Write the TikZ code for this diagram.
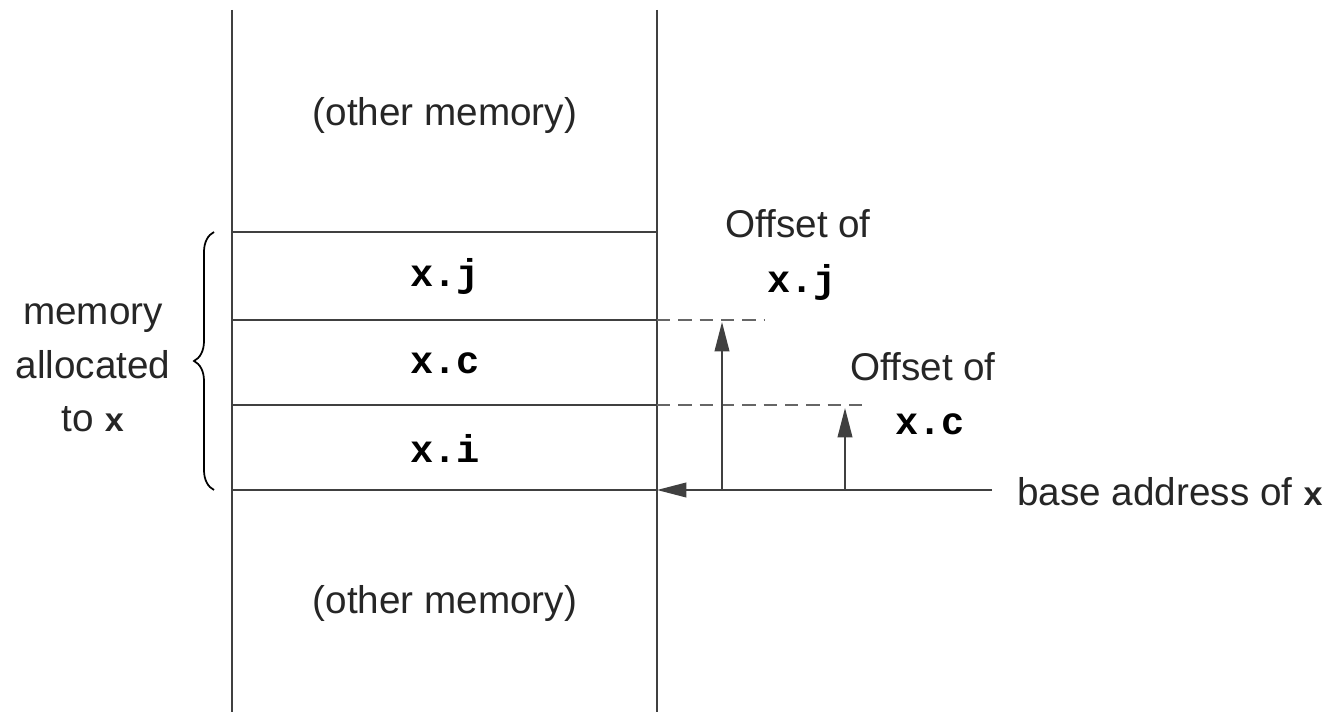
\documentclass[tikz,border=0pt]{standalone}
\usepackage{fontspec}
\setmainfont{Liberation Sans}
\newfontfamily\monofont{Liberation Mono}
\usetikzlibrary{decorations.pathreplacing,arrows.meta}
\newcommand{\smallx}{{\fontsize{25}{30}\selectfont\monofont\bfseries x}}
\begin{document}
\begin{tikzpicture}[x=0.75pt,y=-0.75pt,
  line/.style={draw=black!75,line width=1.3pt},
  dash line/.style={draw=black!60,line width=1.3pt,dash pattern=on 10pt off 6pt},
  arr/.style={line,-{Triangle[length=22pt,width=11pt]}},
  lbl/.style={font=\fontsize{29}{34}\selectfont,text=black!85,inner sep=0pt},
  fld/.style={font=\fontsize{29}{32}\selectfont\monofont\bfseries,inner sep=0pt}]
\useasboundingbox (0,0) rectangle (1340,712);
% column
\coordinate (lt) at (232,10); \coordinate (lb) at (232,712);
\coordinate (rt) at (657,10); \coordinate (rb) at (657,712);
\draw[line] (lt) -- (lb);
\draw[line] (rt) -- (rb);
\coordinate (a1) at (232,232); \coordinate (b1) at (657,232);
\coordinate (a2) at (232,320); \coordinate (b2) at (657,320);
\coordinate (a3) at (232,405); \coordinate (b3) at (657,405);
\coordinate (a4) at (232,490); \coordinate (b4) at (657,490);
\draw[line] (a1) -- (b1);
\draw[line] (a2) -- (b2);
\draw[line] (a3) -- (b3);
\draw[line] (a4) -- (b4);
% dashed extensions
\coordinate (d2) at (765,320);
\coordinate (d3) at (865,405);
\draw[dash line] (b2) -- (d2);
\draw[dash line] (b3) -- (d3);
% texts in column
\node[lbl] (om1) at (445,116) {(other memory)};
\node[lbl] (om2) at (445,604) {(other memory)};
\node[fld] (xj) at (445,277) {x.j};
\node[fld] (xc) at (445,363) {x.c};
\node[fld] (xi) at (445,448) {x.i};
% base address arrow
\node[lbl,anchor=west] (base) at (1017,492) {base address of \smallx};
\coordinate (bs) at (992,490);
\draw[arr] (bs) -- (b4);
% offset arrows
\coordinate (ja) at (722,490); \coordinate (jt) at (722,322);
\coordinate (ca) at (845,490); \coordinate (ct) at (845,408);
\draw[arr] (ja) -- (jt);
\draw[arr] (ca) -- (ct);
% offset labels
\node[lbl] (oj) at (798,224) {Offset of};
\node[fld] (ojx) at (802,283) {x.j};
\node[lbl] (oc) at (923,367) {Offset of};
\node[fld] (ocx) at (930,424) {x.c};
% brace
\coordinate (br1) at (214,490); \coordinate (br2) at (214,232);
\draw[black,line width=1.3pt,decorate,decoration={brace,amplitude=15pt}] (br1) -- (br2);
\node[lbl,align=center,font=\fontsize{29}{40}\selectfont] (mem) at (93,368) {memory\\allocated\\to \smallx};
\end{tikzpicture}
\end{document}
